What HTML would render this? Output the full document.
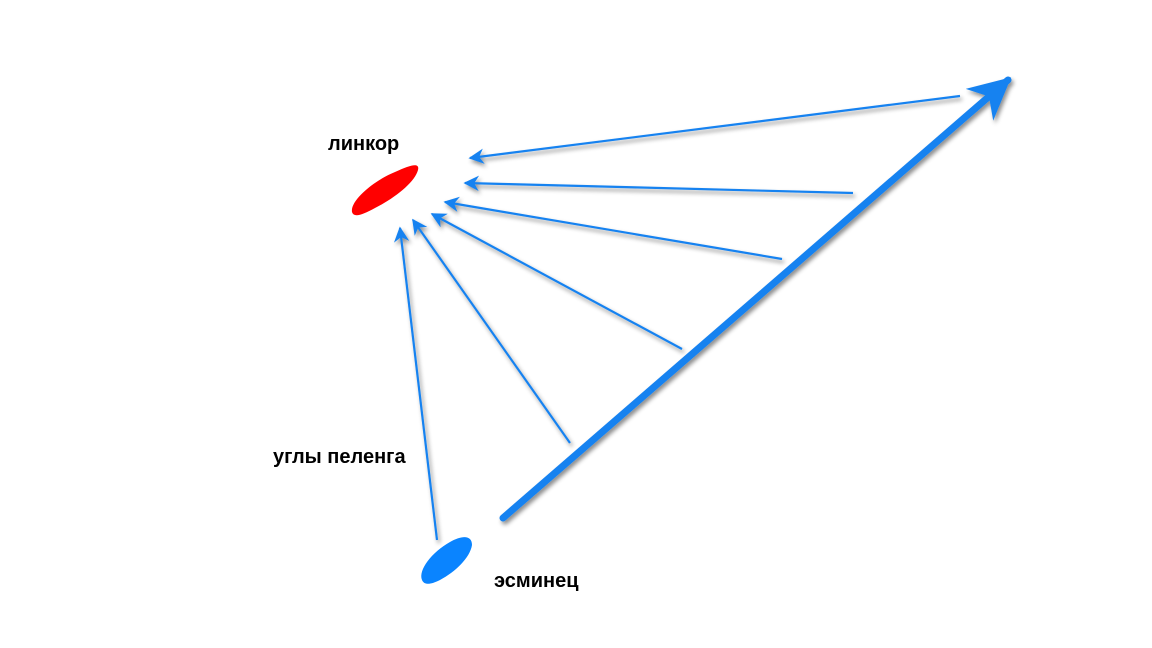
<!DOCTYPE html>
<html><head><style>body{margin:0;background:#fff}svg{display:block}</style></head><body>
<svg width="1152" height="648" viewBox="0 0 1152 648" xmlns="http://www.w3.org/2000/svg">
<defs>
<filter id="sh" x="-20%" y="-20%" width="140%" height="140%"><feDropShadow dx="2" dy="3" stdDeviation="2" flood-color="#000" flood-opacity="0.45"/></filter>
<marker id="a" viewBox="0 0 10 10" refX="9" refY="5" markerWidth="10" markerHeight="7" markerUnits="strokeWidth" orient="auto"><path d="M0,0 L10,5 L0,10 L3,5 z" fill="#1682f0"/></marker>
<marker id="b" viewBox="0 0 10 10" refX="9" refY="5" markerWidth="7" markerHeight="6" markerUnits="strokeWidth" orient="auto"><path d="M0,0 L10,5 L0,10 L3,5 z" fill="#1682f0"/></marker>
</defs>
<g stroke="#1682f0" stroke-width="2.2" fill="none" filter="url(#sh)" marker-end="url(#a)">
<line x1="960" y1="96" x2="470" y2="158"/>
<line x1="853" y1="193" x2="465" y2="183"/>
<line x1="782" y1="259" x2="445" y2="202"/>
<line x1="682" y1="349" x2="432" y2="214"/>
<line x1="570" y1="443" x2="413" y2="220"/>
<line x1="437" y1="540" x2="400" y2="228"/>
</g>
<line x1="503" y1="518" x2="1008" y2="80" stroke="#1682f0" stroke-width="7" stroke-linecap="round" filter="url(#sh)" marker-end="url(#b)"/>
<path d="M352,212 C350,200 375,180 395,172 C410,165 420,162 418,170 C415,182 395,198 375,208 C362,215 354,218 352,212 z" fill="#ff0000"/>
<path d="M422,580 C418,570 432,552 450,542 C462,535 472,535 472,545 C470,558 455,572 440,580 C430,585 424,585 422,580 z" fill="#0a84ff"/>
<g font-family="Liberation Sans, sans-serif" font-weight="bold" font-size="20" fill="#000">
<text x="328" y="150">линкор</text>
<text x="273" y="463">углы пеленга</text>
<text x="494" y="587">эсминец</text>
</g>
</svg>
</body></html>
